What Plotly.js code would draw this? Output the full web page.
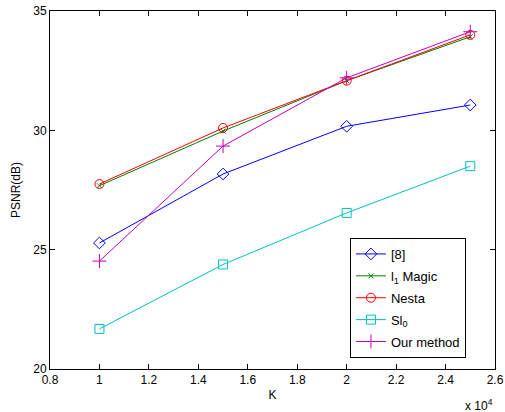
<!DOCTYPE html>
<html><head><meta charset="utf-8">
<script src="https://cdn.plot.ly/plotly-3.0.1.min.js"></script>
<style>body{margin:0;background:#fff}#c{width:505px;height:412px}</style>
</head><body><div id="c"></div>
<script>
const K = [1, 1.5, 2, 2.5];
const ref8 = [25.28, 28.17, 30.17, 31.06];
const l1Magic = [27.68, 29.97, 32.08, 33.92];
const nesta = [27.75, 30.1, 32.08, 34.0];
const sl0 = [21.68, 24.38, 26.54, 28.5];
const ours = [24.52, 29.34, 32.2, 34.13];
const xTicks = [0.8, 1, 1.2, 1.4, 1.6, 1.8, 2, 2.2, 2.4, 2.6];
const yTicks = [20, 25, 30, 35];

const mk = (y, name, color, symbol, size) => ({
  x: K, y: y, name: name, type: 'scatter', mode: 'lines+markers',
  line: {color: color, width: 1},
  marker: {symbol: symbol, size: size, color: color, line: {color: color, width: 1}},
  legendgroup: name
});
const data = [
  mk(ref8, '[8]', '#0000ff', 'diamond-open', 9),
  mk(l1Magic, 'l<sub>1</sub> Magic', '#008000', 'x-thin-open', 5),
  mk(nesta, 'Nesta', '#ff0000', 'circle-open', 9),
  mk(sl0, 'Sl<sub>0</sub>', '#00bfbf', 'square-open', 9),
  mk(ours, 'Our method', '#bf00bf', 'cross-thin-open', 10)
];
const font = {family: 'Liberation Sans, Arial, sans-serif', size: 12, color: '#000'};
const layout = {
  width: 505, height: 412,
  margin: {l: 50, r: 10, t: 11, b: 43},
  paper_bgcolor: '#fff', plot_bgcolor: '#fff',
  font: font,
  showlegend: true,
  legend: {x: 0.674, y: 0.366, xanchor: 'left', yanchor: 'top',
    bordercolor: '#000', borderwidth: 1, bgcolor: '#fff',
    font: {family: font.family, size: 13, color: '#000'}, tracegroupgap: 2},
  xaxis: {range: [0.8, 2.6], tickvals: xTicks, ticktext: xTicks.map(String),
    ticks: 'inside', ticklen: 5, tickcolor: '#000', mirror: 'ticks',
    showline: true, linecolor: '#000', linewidth: 1, showgrid: false, zeroline: false,
    title: {text: 'K', font: font, standoff: 4}},
  yaxis: {range: [20, 35], tickvals: yTicks, ticktext: yTicks.map(String),
    ticks: 'inside', ticklen: 5, tickcolor: '#000', mirror: 'ticks',
    showline: true, linecolor: '#000', linewidth: 1, showgrid: false, zeroline: false,
    title: {text: 'PSNR(dB)', font: font, standoff: 10}},
  annotations: [{xref: 'paper', yref: 'paper', x: 1.0, y: 0, xanchor: 'right', yanchor: 'top',
    yshift: -26, text: 'x 10<sup>4</sup>', showarrow: false, font: font}]
};
Plotly.newPlot('c', data, layout, {displayModeBar: false, staticPlot: true});
</script></body></html>
